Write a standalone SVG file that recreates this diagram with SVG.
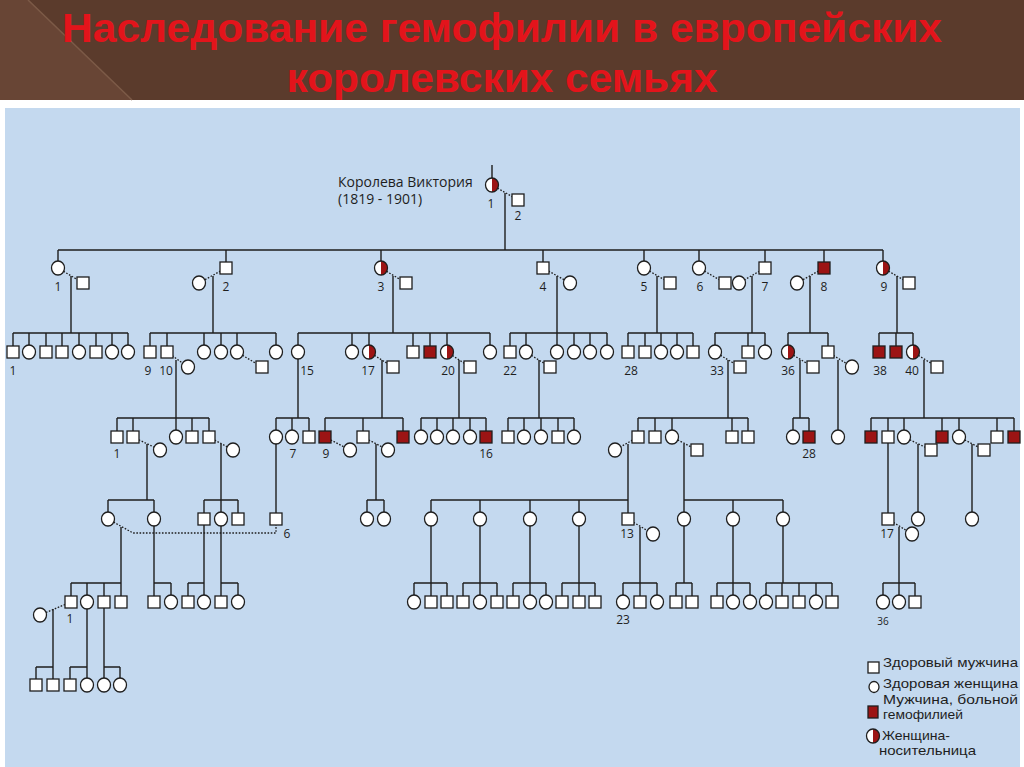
<svg xmlns="http://www.w3.org/2000/svg" xmlns:xlink="http://www.w3.org/1999/xlink" width="1024" height="767" viewBox="0 0 1024 767">
<defs>
<style>
.s{fill:#fff;stroke:#1e1e1e;stroke-width:1.3}
.a{fill:#9c1414;stroke:#1e1e1e;stroke-width:1.3}
.o{fill:none;stroke:#1e1e1e;stroke-width:1.3}
.l{fill:none;stroke:#1e1e1e;stroke-width:1.4}
.d{fill:none;stroke:#1e1e1e;stroke-width:1.3;stroke-dasharray:1.6 1.6}
.n{font-family:"Open Sans","Liberation Sans",sans-serif;font-size:12px;fill:#1e1e1e;text-anchor:middle}
.v{font-family:"Open Sans","Liberation Sans",sans-serif;font-size:14px;fill:#1e1e1e}
.t{font-family:"Liberation Sans",Arial,sans-serif;font-size:13px;fill:#1e1e1e}
.h{font-family:"Liberation Sans",Arial,sans-serif;font-weight:bold;font-size:40px;fill:#e3141b;text-anchor:middle}
</style>
<rect id="M" class="s" x="-6" y="-6" width="12" height="12"/>
<ellipse id="F" class="s" rx="6.5" ry="7"/>
<rect id="A" class="a" x="-6" y="-6" width="12" height="12"/>
<g id="C"><ellipse rx="6.5" ry="7" fill="#fff"/><path d="M0-7A6.5 7 0 0 1 0 7Z" fill="#9c1414"/><ellipse class="o" rx="6.5" ry="7"/></g>
</defs>
<rect x="0" y="0" width="1024" height="767" fill="#ffffff"/>
<rect x="0" y="0" width="1024" height="100" fill="#5b3b2c"/>
<polygon points="0,0 28,0 132,100 0,100" fill="#684535"/>
<line x1="28" y1="0" x2="132" y2="100" stroke="#7c5a47" stroke-width="1.5"/>
<rect x="5" y="108" width="1015" height="659" fill="#c4d9ef"/>
<g id="title">
<text class="h" x="502" y="42" textLength="880" lengthAdjust="spacingAndGlyphs">Наследование гемофилии в европейских</text>
<text class="h" x="502" y="92" textLength="431" lengthAdjust="spacingAndGlyphs">королевских семьях</text>
</g>
<g id="connectors">
<path class="l" d="M492 165V185M505 193V250
M58 250H883M58 250V268M226 250V268M381 250V268M543 250V268M644 250V268M699 250V268M765 250V268M824 250V268M883 250V268
M71 276V333M213 276V333M393 276V333M557 276V333M657 276V333M752 276V333M810 276V333M897 276V333
M13 333H128M13 333V352M29 333V352M46 333V352M62 333V352M79 333V352M96 333V352M112 333V352M128 333V352
M150 333H276M150 333V352M167 333V352M204 333V352M221 333V352M237 333V352M276 333V352
M298 333H490M298 333V352M352 333V352M369 333V352M413 333V352M430 333V352M447 333V352M490 333V352
M510 333H607M510 333V352M526 333V352M557 333V352M574 333V352M590 333V352M607 333V352
M628 333H693M628 333V352M645 333V352M661 333V352M677 333V352M693 333V352
M715 333H765M715 333V352M748 333V352M765 333V352
M788 333H828M788 333V352M828 333V352
M879 333H913M879 333V352M896 333V352M913 333V352
M176 360V418M298 352V418M382 360V418M459 360V418M539 360V418M728 360V418M800 360V418M838 360V437M924 360V418
M117 418H209M117 418V437M133 418V437M176 418V437M192 418V437M209 418V437
M276 418H309M276 418V437M292 418V437M309 418V437
M325 418H403M325 418V437M363 418V437M403 418V437
M421 418H486M421 418V437M437 418V437M453 418V437M470 418V437M486 418V437
M508 418H574M508 418V437M524 418V437M541 418V437M558 418V437M574 418V437
M638 418H748M638 418V437M655 418V437M672 418V437M732 418V437M748 418V437
M793 418H809M793 418V437M809 418V437
M871 418H1014M871 418V437M888 418V437M904 418V437M942 418V437M959 418V437M997 418V437M1014 418V437
M147 444V500M221 444V500M376 444V500M628 444V500M684 444V500M918 444V519M972 444V519M276 437V519M888 437V519
M108 500H154M108 500V519M154 500V519
M204 500H238M204 500V519M221 500V519M238 500V519
M367 500H384M367 500V519M384 500V519
M431 500H628M431 500V519M480 500V519M530 500V519M579 500V519M628 500V519
M684 500H783M684 500V519M733 500V519M783 500V519
M121 527V583M154 519V583M204 519V583M221 519V583M431 519V583M480 519V583M530 519V583M579 519V583M640 527V583M684 519V583M733 519V583M783 519V583M899 527V583
M71 583H121M71 583V602M87 583V602M104 583V602M121 583V602
M154 583H171M154 583V602M171 583V602
M188 583H204M188 583V602M204 583V602
M221 583H238M221 583V602M238 583V602
M414 583H447M414 583V602M431 583V602M447 583V602
M463 583H497M463 583V602M480 583V602M497 583V602
M513 583H546M513 583V602M530 583V602M546 583V602
M562 583H595M562 583V602M579 583V602M595 583V602
M623 583H657M623 583V602M640 583V602M657 583V602
M676 583H692M676 583V602M692 583V602
M717 583H750M717 583V602M733 583V602M750 583V602
M766 583H832M766 583V602M782 583V602M799 583V602M816 583V602M832 583V602
M883 583H915M883 583V602M899 583V602M915 583V602
M53 609V667M87 602V667M104 602V667
M36 667H53M36 667V685M53 667V685
M70 667H87M70 667V685M87 667V685
M104 667H120M104 667V685M120 667V685"/>
<path class="d" d="M492 185L518 200
M58 268L83 283M226 268L199 283M381 268L406 283M543 268L570 283M644 268L670 283M699 268L725 283M765 268L739 283M824 268L797 283M883 268L909 283
M167 352L188 367M237 352L262 367M369 352L393 367M447 352L470 367M526 352L550 367M715 352L740 367M788 352L813 367M828 352L852 367M913 352L937 367
M133 437L160 450M209 437L233 450M325 437L350 450M363 437L388 450M638 437L615 450M672 437L697 450M904 437L931 450M959 437L984 450
M628 519L653 534M888 519L912 534M108 519L133 533H276V519
M71 602L40 615"/>
</g>
<g id="victoria-label">
<text class="v" x="338" y="187">Королева Виктория</text>
<text class="v" x="338" y="204">(1819 - 1901)</text>
</g>
<g id="n1_492"><use href="#C" x="492" y="185"/><text class="n" x="491" y="208">1</text></g>
<g id="n1_518"><use href="#M" x="518" y="200"/><text class="n" x="518" y="220">2</text></g>
<g id="n2_58"><use href="#F" x="58" y="268"/><text class="n" x="58" y="291">1</text></g>
<g id="s2_83"><use href="#M" x="83" y="283"/></g>
<g id="n2_226"><use href="#M" x="226" y="268"/><text class="n" x="226" y="291">2</text></g>
<g id="s2_199"><use href="#F" x="199" y="283"/></g>
<g id="n2_381"><use href="#C" x="381" y="268"/><text class="n" x="381" y="291">3</text></g>
<g id="s2_406"><use href="#M" x="406" y="283"/></g>
<g id="n2_543"><use href="#M" x="543" y="268"/><text class="n" x="543" y="291">4</text></g>
<g id="s2_570"><use href="#F" x="570" y="283"/></g>
<g id="n2_644"><use href="#F" x="644" y="268"/><text class="n" x="644" y="291">5</text></g>
<g id="s2_670"><use href="#M" x="670" y="283"/></g>
<g id="n2_699"><use href="#F" x="699" y="268"/><text class="n" x="700" y="291">6</text></g>
<g id="s2_725"><use href="#M" x="725" y="283"/></g>
<g id="n2_765"><use href="#M" x="765" y="268"/><text class="n" x="765" y="291">7</text></g>
<g id="s2_739"><use href="#F" x="739" y="283"/></g>
<g id="n2_824"><use href="#A" x="824" y="268"/><text class="n" x="824" y="291">8</text></g>
<g id="s2_797"><use href="#F" x="797" y="283"/></g>
<g id="n2_883"><use href="#C" x="883" y="268"/><text class="n" x="884" y="291">9</text></g>
<g id="s2_909"><use href="#M" x="909" y="283"/></g>
<g id="n3_13"><use href="#M" x="13" y="352"/><text class="n" x="13" y="375">1</text></g>
<g id="n3_29"><use href="#F" x="29" y="352"/></g>
<g id="n3_46"><use href="#M" x="46" y="352"/></g>
<g id="n3_62"><use href="#M" x="62" y="352"/></g>
<g id="n3_79"><use href="#F" x="79" y="352"/></g>
<g id="n3_96"><use href="#M" x="96" y="352"/></g>
<g id="n3_112"><use href="#F" x="112" y="352"/></g>
<g id="n3_128"><use href="#F" x="128" y="352"/></g>
<g id="n3_150"><use href="#M" x="150" y="352"/><text class="n" x="148" y="375">9</text></g>
<g id="n3_167"><use href="#M" x="167" y="352"/><text class="n" x="166" y="375">10</text></g>
<g id="s3_188"><use href="#F" x="188" y="367"/></g>
<g id="n3_204"><use href="#F" x="204" y="352"/></g>
<g id="n3_221"><use href="#F" x="221" y="352"/></g>
<g id="n3_237"><use href="#F" x="237" y="352"/></g>
<g id="s3_262"><use href="#M" x="262" y="367"/></g>
<g id="n3_276"><use href="#F" x="276" y="352"/></g>
<g id="n3_298"><use href="#F" x="298" y="352"/><text class="n" x="307" y="375">15</text></g>
<g id="n3_352"><use href="#F" x="352" y="352"/></g>
<g id="n3_369"><use href="#C" x="369" y="352"/><text class="n" x="368" y="375">17</text></g>
<g id="s3_393"><use href="#M" x="393" y="367"/></g>
<g id="n3_413"><use href="#M" x="413" y="352"/></g>
<g id="n3_430"><use href="#A" x="430" y="352"/></g>
<g id="n3_447"><use href="#C" x="447" y="352"/><text class="n" x="448" y="375">20</text></g>
<g id="s3_470"><use href="#M" x="470" y="367"/></g>
<g id="n3_490"><use href="#F" x="490" y="352"/></g>
<g id="n3_510"><use href="#M" x="510" y="352"/><text class="n" x="510" y="375">22</text></g>
<g id="n3_526"><use href="#F" x="526" y="352"/></g>
<g id="s3_550"><use href="#M" x="550" y="367"/></g>
<g id="n3_557"><use href="#F" x="557" y="352"/></g>
<g id="n3_574"><use href="#F" x="574" y="352"/></g>
<g id="n3_590"><use href="#F" x="590" y="352"/></g>
<g id="n3_607"><use href="#F" x="607" y="352"/></g>
<g id="n3_628"><use href="#M" x="628" y="352"/><text class="n" x="631" y="375">28</text></g>
<g id="n3_645"><use href="#M" x="645" y="352"/></g>
<g id="n3_661"><use href="#F" x="661" y="352"/></g>
<g id="n3_677"><use href="#F" x="677" y="352"/></g>
<g id="n3_693"><use href="#M" x="693" y="352"/></g>
<g id="n3_715"><use href="#F" x="715" y="352"/><text class="n" x="717" y="375">33</text></g>
<g id="s3_740"><use href="#M" x="740" y="367"/></g>
<g id="n3_748"><use href="#M" x="748" y="352"/></g>
<g id="n3_765"><use href="#F" x="765" y="352"/></g>
<g id="n3_788"><use href="#C" x="788" y="352"/><text class="n" x="788" y="375">36</text></g>
<g id="s3_813"><use href="#M" x="813" y="367"/></g>
<g id="n3_828"><use href="#M" x="828" y="352"/></g>
<g id="s3_852"><use href="#F" x="852" y="367"/></g>
<g id="n3_879"><use href="#A" x="879" y="352"/><text class="n" x="880" y="375">38</text></g>
<g id="n3_896"><use href="#A" x="896" y="352"/></g>
<g id="n3_913"><use href="#C" x="913" y="352"/><text class="n" x="912" y="375">40</text></g>
<g id="s3_937"><use href="#M" x="937" y="367"/></g>
<g id="n4_117"><use href="#M" x="117" y="437"/><text class="n" x="117" y="458">1</text></g>
<g id="n4_133"><use href="#M" x="133" y="437"/></g>
<g id="s4_160"><use href="#F" x="160" y="450"/></g>
<g id="n4_176"><use href="#F" x="176" y="437"/></g>
<g id="n4_192"><use href="#M" x="192" y="437"/></g>
<g id="n4_209"><use href="#M" x="209" y="437"/></g>
<g id="s4_233"><use href="#F" x="233" y="450"/></g>
<g id="n4_276"><use href="#F" x="276" y="437"/></g>
<g id="n4_292"><use href="#F" x="292" y="437"/><text class="n" x="293" y="458">7</text></g>
<g id="n4_309"><use href="#M" x="309" y="437"/></g>
<g id="n4_325"><use href="#A" x="325" y="437"/><text class="n" x="326" y="458">9</text></g>
<g id="s4_350"><use href="#F" x="350" y="450"/></g>
<g id="n4_363"><use href="#M" x="363" y="437"/></g>
<g id="s4_388"><use href="#F" x="388" y="450"/></g>
<g id="n4_403"><use href="#A" x="403" y="437"/></g>
<g id="n4_421"><use href="#F" x="421" y="437"/></g>
<g id="n4_437"><use href="#F" x="437" y="437"/></g>
<g id="n4_453"><use href="#F" x="453" y="437"/></g>
<g id="n4_470"><use href="#F" x="470" y="437"/></g>
<g id="n4_486"><use href="#A" x="486" y="437"/><text class="n" x="486" y="458">16</text></g>
<g id="n4_508"><use href="#M" x="508" y="437"/></g>
<g id="n4_524"><use href="#F" x="524" y="437"/></g>
<g id="n4_541"><use href="#F" x="541" y="437"/></g>
<g id="n4_558"><use href="#M" x="558" y="437"/></g>
<g id="n4_574"><use href="#F" x="574" y="437"/></g>
<g id="s4_615"><use href="#F" x="615" y="450"/></g>
<g id="n4_638"><use href="#M" x="638" y="437"/></g>
<g id="n4_655"><use href="#M" x="655" y="437"/></g>
<g id="n4_672"><use href="#F" x="672" y="437"/></g>
<g id="s4_697"><use href="#M" x="697" y="450"/></g>
<g id="n4_732"><use href="#M" x="732" y="437"/></g>
<g id="n4_748"><use href="#M" x="748" y="437"/></g>
<g id="n4_793"><use href="#F" x="793" y="437"/></g>
<g id="n4_809"><use href="#A" x="809" y="437"/><text class="n" x="809" y="458">28</text></g>
<g id="n4_838"><use href="#F" x="838" y="437"/></g>
<g id="n4_871"><use href="#A" x="871" y="437"/></g>
<g id="n4_888"><use href="#M" x="888" y="437"/></g>
<g id="n4_904"><use href="#F" x="904" y="437"/></g>
<g id="s4_931"><use href="#M" x="931" y="450"/></g>
<g id="n4_942"><use href="#A" x="942" y="437"/></g>
<g id="n4_959"><use href="#F" x="959" y="437"/></g>
<g id="s4_984"><use href="#M" x="984" y="450"/></g>
<g id="n4_997"><use href="#M" x="997" y="437"/></g>
<g id="n4_1014"><use href="#A" x="1014" y="437"/></g>
<g id="n5_108"><use href="#F" x="108" y="519"/></g>
<g id="n5_154"><use href="#F" x="154" y="519"/></g>
<g id="n5_204"><use href="#M" x="204" y="519"/></g>
<g id="n5_221"><use href="#F" x="221" y="519"/></g>
<g id="n5_238"><use href="#M" x="238" y="519"/></g>
<g id="n5_276"><use href="#M" x="276" y="519"/><text class="n" x="287" y="538">6</text></g>
<g id="n5_367"><use href="#F" x="367" y="519"/></g>
<g id="n5_384"><use href="#F" x="384" y="519"/></g>
<g id="n5_431"><use href="#F" x="431" y="519"/></g>
<g id="n5_480"><use href="#F" x="480" y="519"/></g>
<g id="n5_530"><use href="#F" x="530" y="519"/></g>
<g id="n5_579"><use href="#F" x="579" y="519"/></g>
<g id="n5_628"><use href="#M" x="628" y="519"/><text class="n" x="627" y="538">13</text></g>
<g id="s5_653"><use href="#F" x="653" y="534"/></g>
<g id="n5_684"><use href="#F" x="684" y="519"/></g>
<g id="n5_733"><use href="#F" x="733" y="519"/></g>
<g id="n5_783"><use href="#F" x="783" y="519"/></g>
<g id="n5_888"><use href="#M" x="888" y="519"/><text class="n" x="887" y="538">17</text></g>
<g id="s5_912"><use href="#F" x="912" y="534"/></g>
<g id="n5_918"><use href="#F" x="918" y="519"/></g>
<g id="n5_972"><use href="#F" x="972" y="519"/></g>
<g id="s6_40"><use href="#F" x="40" y="615"/></g>
<g id="n6_71"><use href="#M" x="71" y="602"/><text class="n" x="70" y="623">1</text></g>
<g id="n6_87"><use href="#F" x="87" y="602"/></g>
<g id="n6_104"><use href="#M" x="104" y="602"/></g>
<g id="n6_121"><use href="#M" x="121" y="602"/></g>
<g id="n6_154"><use href="#M" x="154" y="602"/></g>
<g id="n6_171"><use href="#F" x="171" y="602"/></g>
<g id="n6_188"><use href="#M" x="188" y="602"/></g>
<g id="n6_204"><use href="#F" x="204" y="602"/></g>
<g id="n6_221"><use href="#M" x="221" y="602"/></g>
<g id="n6_238"><use href="#F" x="238" y="602"/></g>
<g id="n6_414"><use href="#F" x="414" y="602"/></g>
<g id="n6_431"><use href="#M" x="431" y="602"/></g>
<g id="n6_447"><use href="#M" x="447" y="602"/></g>
<g id="n6_463"><use href="#M" x="463" y="602"/></g>
<g id="n6_480"><use href="#F" x="480" y="602"/></g>
<g id="n6_497"><use href="#M" x="497" y="602"/></g>
<g id="n6_513"><use href="#M" x="513" y="602"/></g>
<g id="n6_530"><use href="#F" x="530" y="602"/></g>
<g id="n6_546"><use href="#F" x="546" y="602"/></g>
<g id="n6_562"><use href="#M" x="562" y="602"/></g>
<g id="n6_579"><use href="#M" x="579" y="602"/></g>
<g id="n6_595"><use href="#M" x="595" y="602"/></g>
<g id="n6_623"><use href="#F" x="623" y="602"/><text class="n" x="623" y="624">23</text></g>
<g id="n6_640"><use href="#M" x="640" y="602"/></g>
<g id="n6_657"><use href="#F" x="657" y="602"/></g>
<g id="n6_676"><use href="#M" x="676" y="602"/></g>
<g id="n6_692"><use href="#M" x="692" y="602"/></g>
<g id="n6_717"><use href="#M" x="717" y="602"/></g>
<g id="n6_733"><use href="#F" x="733" y="602"/></g>
<g id="n6_750"><use href="#F" x="750" y="602"/></g>
<g id="n6_766"><use href="#F" x="766" y="602"/></g>
<g id="n6_782"><use href="#M" x="782" y="602"/></g>
<g id="n6_799"><use href="#M" x="799" y="602"/></g>
<g id="n6_816"><use href="#F" x="816" y="602"/></g>
<g id="n6_832"><use href="#M" x="832" y="602"/></g>
<g id="n6_883"><use href="#F" x="883" y="602"/><text class="n" x="883" y="625" style="font-size:10px">36</text></g>
<g id="n6_899"><use href="#F" x="899" y="602"/></g>
<g id="n6_915"><use href="#M" x="915" y="602"/></g>
<g id="n7_36"><use href="#M" x="36" y="685"/></g>
<g id="n7_53"><use href="#M" x="53" y="685"/></g>
<g id="n7_70"><use href="#M" x="70" y="685"/></g>
<g id="n7_87"><use href="#F" x="87" y="685"/></g>
<g id="n7_104"><use href="#F" x="104" y="685"/></g>
<g id="n7_120"><use href="#F" x="120" y="685"/></g>
<g id="legend">
<rect class="s" x="868" y="662" width="11" height="11"/>
<text class="t" x="883" y="667" textLength="135" lengthAdjust="spacingAndGlyphs">Здоровый мужчина</text>
<ellipse class="s" cx="874" cy="687" rx="5" ry="5.5"/>
<text class="t" x="883" y="688" textLength="135" lengthAdjust="spacingAndGlyphs">Здоровая женщина</text>
<rect class="a" x="868" y="706" width="10" height="12"/>
<text class="t" x="883" y="704" textLength="135" lengthAdjust="spacingAndGlyphs">Мужчина, больной</text>
<text class="t" x="883" y="719" textLength="80" lengthAdjust="spacingAndGlyphs">гемофилией</text>
<use href="#C" x="873" y="736"/>
<text class="t" x="882" y="740" textLength="68" lengthAdjust="spacingAndGlyphs">Женщина-</text>
<text class="t" x="879" y="755" textLength="97" lengthAdjust="spacingAndGlyphs">носительница</text>
</g>
</svg>
